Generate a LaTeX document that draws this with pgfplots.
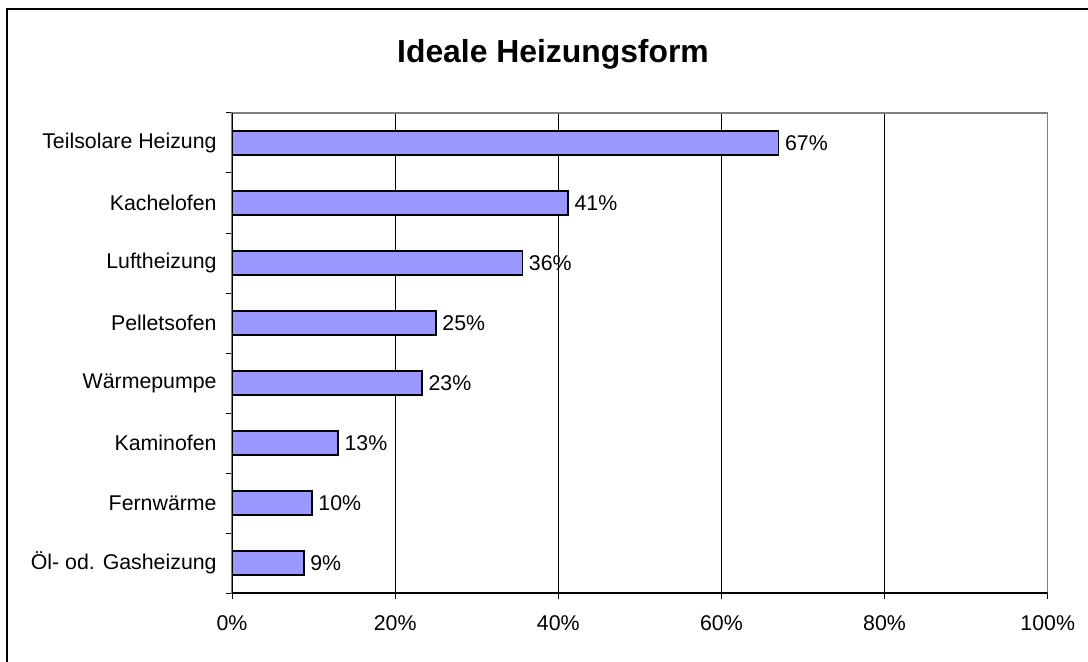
\documentclass[border=0pt]{standalone}
\usepackage{fontspec}
\setmainfont{Liberation Sans}
\usepackage{pgfplots}
\pgfplotsset{compat=1.18}
\definecolor{barfill}{HTML}{9999FF}
\begin{document}
\begin{tikzpicture}[x=0.75pt,y=0.75pt]
\useasboundingbox (0,0) rectangle (1088,661);
\draw[line width=0.9pt, black] (7,-5) -- (7,652) -- (1095,652);
\node[font=\fontsize{23.9}{28}\selectfont\bfseries, anchor=base, inner sep=0pt] at (553,598.3) {Ideale Heizungsform};
\begin{axis}[
  at={(174pt,51pt)}, anchor=south west,
  scale only axis, width=611.8pt, height=360pt,
  /pgf/number format/assume math mode=true,
  xbar, bar width=18pt,
  xmin=0, xmax=100, ymin=-0.5, ymax=7.5,
  xtick={0,20,...,100},
  xticklabels={0\%,20\%,40\%,60\%,80\%,100\%},
  ytick={-0.5,0.5,...,7.5},
  yticklabels={,,,,,,,,,},
  extra y ticks={0,1,2,3,4,5,6,7},
  extra y tick labels={Öl- od. Gasheizung,Fernwärme,Kaminofen,Wärmepumpe,Pelletsofen,Luftheizung,Kachelofen,Teilsolare Heizung},
  extra y tick style={major tick length=0pt, grid=none},
  xtick pos=bottom, ytick pos=left,
  tick align=outside, major tick length=4.5pt,
  tick style={black, line width=0.75pt},
  ticklabel style={font=\fontsize{16}{18}\selectfont},
  yticklabel style={xshift=-8pt},
  xticklabel style={yshift=-9pt},
  xmajorgrids, major x grid style={black, line width=0.75pt},
  axis line style={draw=gray, line width=1pt},
  nodes near coords={\pgfmathprintnumber[fixed,precision=0]{\pgfplotspointmeta}\%},
  nodes near coords style={anchor=west, font=\fontsize{16}{18}\selectfont, black, xshift=1pt},
]
\addplot[fill=barfill, draw=black, line width=1.1pt] coordinates {
  (8.8,0) (9.8,1) (13.0,2) (23.3,3) (25.0,4) (35.6,5) (41.2,6) (67.0,7)
};
\draw[black, line width=1.1pt] (rel axis cs:0,1) -- (rel axis cs:0,0) -- (rel axis cs:1,0);
\end{axis}
\end{tikzpicture}
\end{document}
